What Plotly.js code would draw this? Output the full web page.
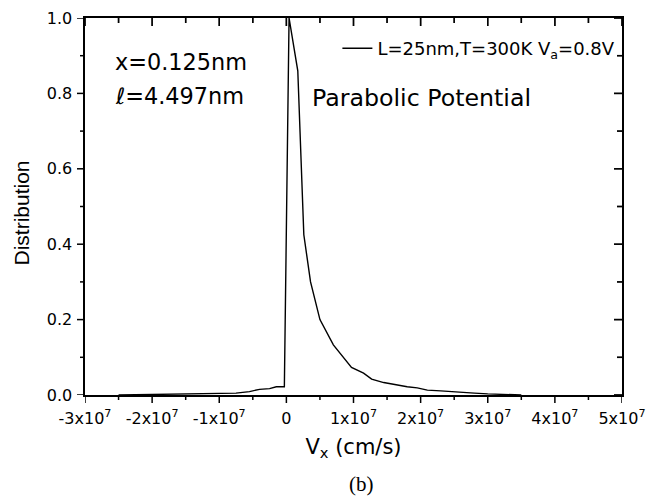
<!DOCTYPE html>
<html>
<head>
<meta charset="utf-8">
<script src="https://cdn.plot.ly/plotly-3.0.1.min.js"></script>
<style>html,body{margin:0;padding:0;background:#fff;}#plot{width:654px;height:496px;}</style>
</head>
<body>
<div id="plot"></div>
<script>
// Velocity (cm/s) and normalized distribution
const vx = [-2.5e7, -2.05e7, -1.55e7, -1.05e7, -0.75e7, -0.55e7, -0.4e7, -0.25e7, -0.15e7, -0.03e7,
            0.04e7, 0.17e7, 0.26e7, 0.36e7, 0.5e7, 0.7e7, 0.8e7, 0.87e7, 0.97e7, 1.15e7, 1.27e7,
            1.45e7, 1.6e7, 1.8e7, 1.95e7, 2.1e7, 2.3e7, 2.55e7, 2.8e7, 3.0e7, 3.2e7, 3.5e7];
const dist = [0.0, 0.001, 0.002, 0.004, 0.005, 0.009, 0.015, 0.017, 0.022, 0.022,
              1.0, 0.86, 0.425, 0.30, 0.20, 0.133, 0.11, 0.097, 0.073, 0.058, 0.042,
              0.033, 0.028, 0.022, 0.019, 0.013, 0.011, 0.009, 0.005, 0.003, 0.001, 0.0];
const xTickVals = [-3e7, -2e7, -1e7, 0, 1e7, 2e7, 3e7, 4e7, 5e7];
const xTickText = ['-3x10<sup>7</sup>', '-2x10<sup>7</sup>', '-1x10<sup>7</sup>', '0',
                   '1x10<sup>7</sup>', '2x10<sup>7</sup>', '3x10<sup>7</sup>', '4x10<sup>7</sup>', '5x10<sup>7</sup>'];
const yTickVals = [0, 0.2, 0.4, 0.6, 0.8, 1.0];
const yTickText = ['0.0', '0.2', '0.4', '0.6', '0.8', '1.0'];
const seriesName = 'L=25nm,T=300K V<sub>a</sub>=0.8V';

const D = 'DejaVu Sans, Arial, sans-serif';
const L = 'Liberation Sans, Arial, sans-serif';
const xr = [-3e7, 5e7], yr = [0, 1.0];
const W = 654, H = 496, M = {l: 85, r: 32, t: 18, b: 101};
const plotW = W - M.l - M.r, plotH = H - M.t - M.b;

// minor ticks halfway between major ticks
const mid = a => a.slice(1).map((v, i) => (v + a[i]) / 2);
const xMinor = mid(xTickVals), yMinor = mid(yTickVals);

// tick marks (bottom/left outward, top/right inward), built from the tick arrays
const pxX = (xr[1] - xr[0]) / plotW, pxY = (yr[1] - yr[0]) / plotH;
const tkX = [], tkY = [], tkS = [], tkSym = [];
function addX(v, len) {
  [yr[0] - pxY * len / 2, yr[1] - pxY * len / 2].forEach(y => { tkX.push(v); tkY.push(y); tkS.push(len / 1.4); tkSym.push('line-ns'); });
}
function addY(v, len) {
  [xr[0] - pxX * len / 2, xr[1] - pxX * len / 2].forEach(x => { tkX.push(x); tkY.push(v); tkS.push(len / 1.4); tkSym.push('line-ew'); });
}
xTickVals.forEach(v => addX(v, 8)); xMinor.forEach(v => addX(v, 5));
yTickVals.forEach(v => addY(v, 8)); yMinor.forEach(v => addY(v, 5));

// same ticks as layout shapes (paper units along the perpendicular direction)
const tk = {color: '#000', width: 1.5};
const shapes = [];
function sX(v, len) {
  shapes.push({type: 'line', xref: 'x', x0: v, x1: v, yref: 'paper', y0: 0, y1: -len / plotH, line: tk, layer: 'above'});
  shapes.push({type: 'line', xref: 'x', x0: v, x1: v, yref: 'paper', y0: 1, y1: 1 - len / plotH, line: tk, layer: 'above'});
}
function sY(v, len) {
  shapes.push({type: 'line', yref: 'y', y0: v, y1: v, xref: 'paper', x0: 0, x1: -len / plotW, line: tk, layer: 'above'});
  shapes.push({type: 'line', yref: 'y', y0: v, y1: v, xref: 'paper', x0: 1, x1: 1 - len / plotW, line: tk, layer: 'above'});
}
xTickVals.forEach(v => sX(v, 8)); xMinor.forEach(v => sX(v, 5));
yTickVals.forEach(v => sY(v, 8)); yMinor.forEach(v => sY(v, 5));

const traces = [
  {x: vx, y: dist, type: 'scatter', mode: 'lines', name: seriesName,
   line: {color: '#000', width: 1.4}, hoverinfo: 'skip'},
  {x: tkX, y: tkY, type: 'scatter', mode: 'markers', showlegend: false, hoverinfo: 'skip', cliponaxis: false,
   marker: {symbol: tkSym, size: tkS, color: '#000', line: {color: '#000', width: 1.5}}}
];

const layout = {
  width: W, height: H,
  margin: M,
  paper_bgcolor: '#fff', plot_bgcolor: '#fff',
  font: {family: D, color: '#000'},
  showlegend: true,
  legend: {x: 0.47, y: 0.968, xanchor: 'left', yanchor: 'top', bgcolor: 'rgba(0,0,0,0)',
           font: {family: D, size: 18, color: '#000'}, borderwidth: 0},
  xaxis: {range: xr, showgrid: false, zeroline: false, showline: true, mirror: true, linecolor: '#000', linewidth: 1.6,
    ticks: 'outside', ticklen: 8, tickcolor: 'rgba(0,0,0,0)', tickmode: 'array', tickvals: xTickVals, ticktext: xTickText,
    tickfont: {family: D, size: 16}, fixedrange: true,
    title: {text: 'V<sub>x</sub> (cm/s)', font: {family: D, size: 21}, standoff: 12}},
  yaxis: {range: yr, showgrid: false, zeroline: false, showline: true, mirror: true, linecolor: '#000', linewidth: 1.6,
    ticks: 'outside', ticklen: 8, tickcolor: 'rgba(0,0,0,0)', tickmode: 'array', tickvals: yTickVals, ticktext: yTickText,
    tickfont: {family: D, size: 16}, fixedrange: true},
  shapes: shapes,
  annotations: [
    {xref: 'paper', yref: 'paper', x: (20.5 - 85) / 537, y: 1 - (213 - 18) / 377, xanchor: 'center', yanchor: 'middle',
     showarrow: false, textangle: -90, text: 'Distribution', font: {family: L, size: 21}},
    {xref: 'paper', yref: 'paper', x: 0.052, y: 0.884, xanchor: 'left', yanchor: 'middle', showarrow: false,
     text: 'x=0.125nm', font: {family: D, size: 22.4}},
    {xref: 'paper', yref: 'paper', x: 0.052, y: 0.794, xanchor: 'left', yanchor: 'middle', showarrow: false,
     text: '<i>ℓ</i>=4.497nm', font: {family: D, size: 22.4}},
    {xref: 'paper', yref: 'paper', x: 0.419, y: 0.789, xanchor: 'left', yanchor: 'middle', showarrow: false,
     text: 'Parabolic Potential', font: {family: D, size: 23.7}},
    {xref: 'paper', yref: 'paper', x: 0.515, y: -0.2, xanchor: 'center', yanchor: 'top', showarrow: false,
     text: '(b)', font: {family: 'Liberation Serif, Times New Roman, serif', size: 21}}
  ]
};

Plotly.newPlot('plot', traces, layout, {displayModeBar: false, staticPlot: true});
</script>
</body>
</html>
